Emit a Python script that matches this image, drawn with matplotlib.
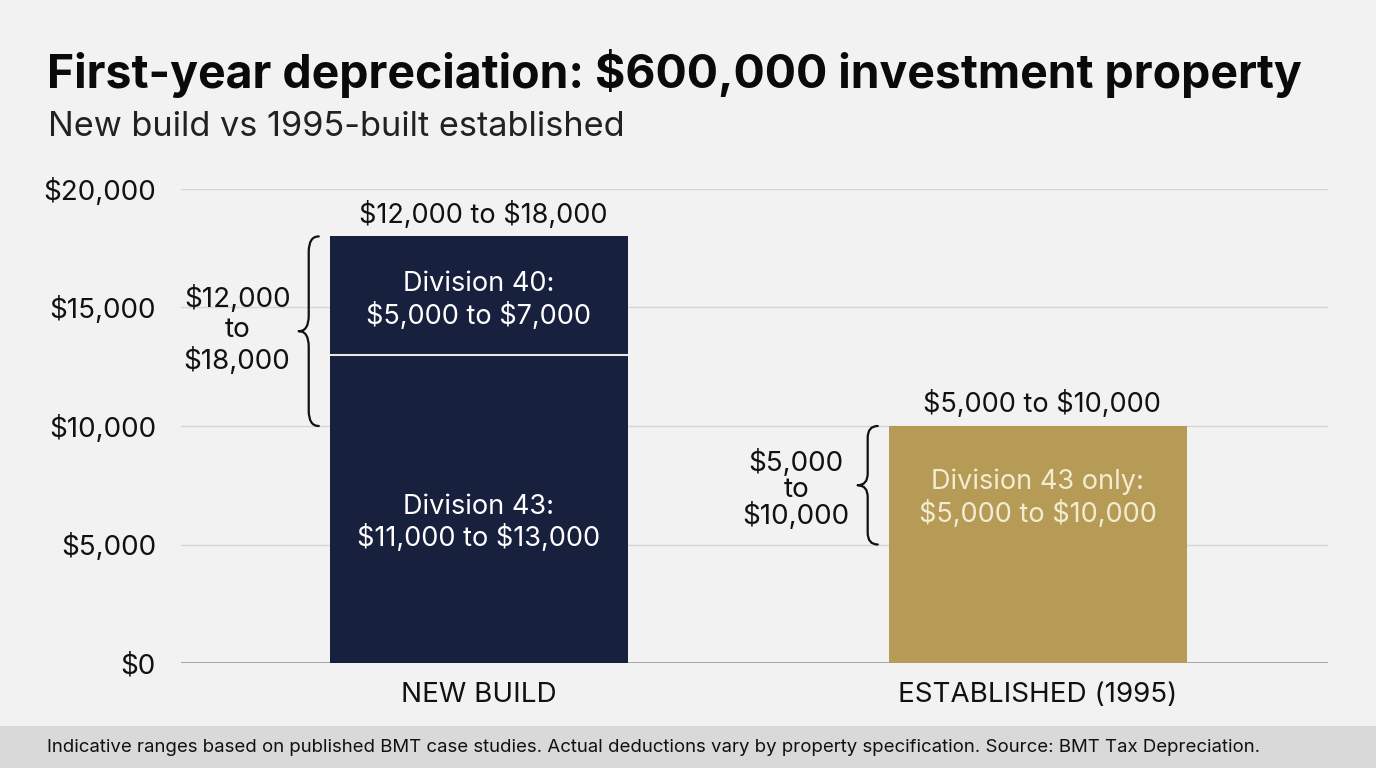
import matplotlib
matplotlib.use("Agg")
import matplotlib.pyplot as plt
from matplotlib.path import Path
from matplotlib.patches import PathPatch, Rectangle

plt.rcParams['font.family'] = ['Inter', 'DejaVu Sans']
plt.rcParams['text.parse_math'] = False

# ---- data ----
categories = ["NEW BUILD", "ESTABLISHED (1995)"]
div43_values = [13000, 10000]
div40_values = [5000, 0]
totals_labels = ["$12,000 to $18,000", "$5,000 to $10,000"]
inner_labels_43 = ["Division 43:\n$11,000 to $13,000", "Division 43 only:\n$5,000 to $10,000"]
inner_labels_40 = ["Division 40:\n$5,000 to $7,000", None]
brace_ranges = [(10000, 18000), (5000, 10000)]
brace_labels = ["$12,000\nto\n$18,000", "$5,000\nto\n$10,000"]
yticks = [0, 5000, 10000, 15000, 20000]
ytick_labels = ["$0", "$5,000", "$10,000", "$15,000", "$20,000"]

title = "First-year depreciation: $600,000 investment property"
subtitle = "New build vs 1995-built established"
footnote = ("Indicative ranges based on published BMT case studies. Actual deductions vary "
            "by property specification. Source: BMT Tax Depreciation.")

NAVY = "#17203d"
GOLD = "#b59b55"
BG = "#f2f2f2"
CREAM = "#f4ecd2"
FS = 20
FSI = 19.5

fig = plt.figure(figsize=(13.76, 7.68), dpi=100, facecolor=BG)
W, H = 1376, 768
ax = fig.add_axes([181 / W, 1 - 663 / H, (1328 - 181) / W, (663 - 189) / H])
ax.set_facecolor(BG)

x = [0, 1]
width = 0.533
colors = [NAVY, GOLD]

ax.bar(x, div43_values, width=width, color=colors, zorder=3)
ax.bar(x, div40_values, width=width, bottom=div43_values, color=NAVY, zorder=3)
ax.hlines(div43_values[0], x[0] - width / 2, x[0] + width / 2, color="#e8e8e8", lw=1.5, zorder=4)

ax.set_xlim(-0.533, 1.519)
ax.set_ylim(0, 20000)
ax.set_yticks(yticks)
ax.set_yticklabels(ytick_labels)
ax.set_xticks(x)
ax.set_xticklabels(categories)
ax.tick_params(axis='y', length=0, labelsize=FS, pad=18, labelcolor="#111111")
ax.tick_params(axis='x', length=0, labelsize=FS, pad=14, labelcolor="#111111")
ax.grid(axis='y', color="#d6d6d6", lw=1, zorder=0)
for s in ax.spines.values():
    s.set_visible(False)
ax.axhline(0, color="#9a9a9a", lw=1.2, zorder=2)

tops = [a + b for a, b in zip(div43_values, div40_values)]
for xi, t, lab in zip(x, tops, totals_labels):
    ax.annotate(lab, (xi + 0.008, t), xytext=(0, 5.5), textcoords="offset points",
                ha="center", va="bottom", fontsize=FSI, color="#111111")

ax.text(x[0], div43_values[0] * 0.455, inner_labels_43[0], ha="center", va="center",
        fontsize=FSI, color="white", linespacing=1.2, zorder=5)
ax.text(x[0], div43_values[0] + div40_values[0] * 0.46, inner_labels_40[0], ha="center", va="center",
        fontsize=FSI, color="white", linespacing=1.2, zorder=5)
ax.text(x[1], div43_values[1] * 0.695, inner_labels_43[1], ha="center", va="center",
        fontsize=FSI, color=CREAM, linespacing=1.2, zorder=5)


def brace(ax, bar_left, y0, y1, r):
    xr = bar_left - 0.02
    xm = bar_left - 0.038
    xt = bar_left - 0.056
    ym = (y0 + y1) / 2
    verts = [(xr, y1), (xm, y1), (xm, y1 - r),
             (xm, ym + r),
             (xm, ym), (xt, ym),
             (xm, ym), (xm, ym - r),
             (xm, y0 + r),
             (xm, y0), (xr, y0)]
    codes = [Path.MOVETO, Path.CURVE3, Path.CURVE3,
             Path.LINETO,
             Path.CURVE3, Path.CURVE3,
             Path.CURVE3, Path.CURVE3,
             Path.LINETO,
             Path.CURVE3, Path.CURVE3]
    ax.add_patch(PathPatch(Path(verts, codes), fill=False, lw=1.6, color="#111111",
                           capstyle="round", joinstyle="round", zorder=5))


spacings = [1.2, 0.98]
offsets = [50, -180]
for xi, (y0, y1), lab, sp, off in zip(x, brace_ranges, brace_labels, spacings, offsets):
    bl = xi - width / 2
    brace(ax, bl, y0, y1, 650 if (y1 - y0) > 6000 else 500)
    ax.text(bl - 0.166, (y0 + y1) / 2 + off, lab, ha="center", va="center",
            fontsize=FS, color="#111111", linespacing=sp)

fig.text(47 / W, 1 - 88 / H, title, ha="left", va="baseline", fontsize=33.4,
         fontweight="bold", color="#0a0a0a")
fig.text(48 / W, 1 - 136 / H, subtitle, ha="left", va="baseline", fontsize=24.7,
         color="#222222")

fig.patches.append(Rectangle((0, 0), 1, 42 / H, transform=fig.transFigure,
                             facecolor="#d9d9d9", edgecolor="none", zorder=0))
fig.text(47 / W, 1 - 748 / H, footnote, ha="left", va="center", fontsize=13.4,
         color="#111111")

fig.savefig("out.png", dpi=100, facecolor=BG)
